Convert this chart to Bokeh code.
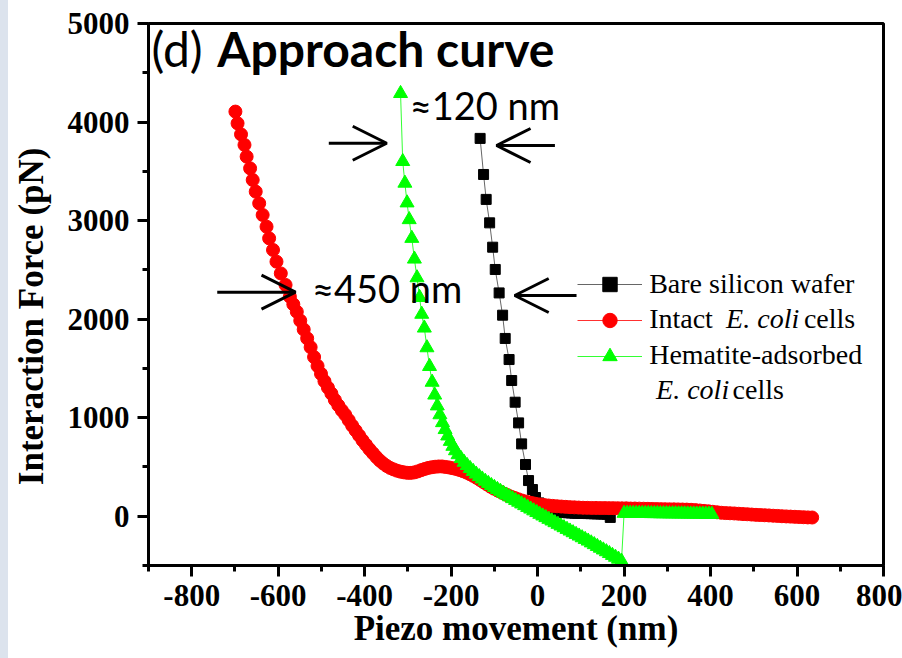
from bokeh.plotting import figure
from bokeh.layouts import row
from bokeh.models import (FixedTicker, Label, Arrow, OpenHead, Legend, LegendItem, Range1d, Div)
from bokeh.embed import file_html
from bokeh.resources import INLINE

# ---- axis ticks ----
x_ticks = [-800, -600, -400, -200, 0, 200, 400, 600, 800]
x_minor = [-900, -700, -500, -300, -100, 100, 300, 500, 700]
y_ticks = [0, 1000, 2000, 3000, 4000, 5000]
y_minor = [-500, 500, 1500, 2500, 3500, 4500]

# ---- Bare silicon wafer ----
bare_x = [-133, -125, -119, -111, -104, -98, -89, -81, -75, -66, -60, -52, -44, -37, -28, -21,
          -12, -5, 3, 10, 18, 26, 33, 41, 48, 56, 63, 71, 78, 86, 93, 101, 108, 116, 123, 131,
          138, 146, 153, 161, 168]
bare_y = [3834, 3468, 3215, 2977, 2730, 2504, 2266, 2040, 1804, 1590, 1377, 1157, 947, 734, 525, 362,
          271, 190, 135, 100, 78, 64, 55, 48, 43, 40, 37, 35, 33, 31, 30, 29, 28, 27, 26, 25,
          24, 23, 22, 20, -12]

# ---- Intact E. coli cells ----
intact_x = [-699, -694, -686, -678, -673, -665, -659, -652, -644, -636, -627, -621, -612, -604, -594,
            -583, -573, -565, -557, -549, -541, -533, -525, -517, -509, -501, -493, -485, -477, -469,
            -461, -453, -445, -437, -429, -421, -413, -405, -397, -389, -381, -373, -365, -357, -349,
            -341, -333, -325, -317, -309, -301, -293, -285, -277, -269, -261, -253, -245, -237, -229,
            -221, -213, -205, -197, -189, -181, -173, -165, -157, -149, -141, -133, -125, -117, -109,
            -101, -93, -85, -77, -69, -61, -53, -45, -37, -29, -21, -13, -5, 5, 15,
            25, 35, 45, 55, 65, 75, 85, 95, 105, 115, 125, 135, 145, 155, 165,
            175, 185, 195, 205, 215, 225, 235, 245, 255, 265, 275, 285, 295, 305, 315,
            325, 335, 345, 355, 365, 375, 385, 395, 405, 415, 425, 435, 445, 455, 465,
            475, 485, 495, 505, 515, 525, 535, 545, 555, 565, 575, 585, 595, 605, 615,
            625, 635]
intact_y = [4106, 3987, 3875, 3768, 3649, 3530, 3412, 3294, 3175, 3057, 2938, 2820, 2702, 2583, 2464,
            2347, 2228, 2150, 2075, 1985, 1895, 1805, 1715, 1615, 1525, 1445, 1370, 1305, 1245, 1180,
            1125, 1075, 1030, 975, 920, 870, 820, 770, 725, 680, 640, 600, 565, 535, 510,
            490, 475, 462, 452, 445, 440, 440, 445, 455, 468, 480, 490, 497, 502, 505,
            505, 500, 495, 488, 480, 470, 458, 444, 428, 410, 390, 368, 345, 322, 300,
            280, 262, 245, 228, 212, 198, 185, 172, 160, 150, 141, 133, 126, 120, 114,
            109, 105, 101, 98, 95, 92, 90, 88, 86, 85, 84, 84, 83, 83, 82,
            82, 81, 80, 80, 78, 78, 77, 76, 75, 74, 73, 72, 71, 70, 70,
            69, 68, 67, 65, 62, 58, 54, 50, 45, 40, 35, 32, 30, 28, 25,
            22, 20, 17, 14, 12, 10, 8, 5, 3, 0, -2, -4, -6, -8, -10,
            -12, -13]

# ---- Hematite-adsorbed E. coli cells ----
hem_x = [-317, -312, -307, -302, -297, -291, -285, -279, -273, -268, -262, -256, -250, -244,
         -238, -232, -226, -220, -214, -208, -202, -196, -190, -184, -177, -170, -163, -156, -149,
         -142, -135, -128, -121, -114, -107, -100, -93, -86, -79, -72, -65, -58, -51, -44,
         -37, -30, -23, -16, -9, -2, 5, 12, 19, 26, 33, 40, 47, 54, 61,
         68, 75, 82, 89, 96, 103, 110, 117, 124, 131, 138, 145, 152, 159, 166,
         173, 180, 187, 194,
         200, 207, 214, 221, 228, 235, 242, 249, 256, 263, 270, 277, 284, 291, 298,
         305, 312, 319, 326, 333, 340, 347, 354, 361, 368, 375, 382, 389, 396, 403]
hem_y = [4290, 3600, 3380, 3180, 3010, 2820, 2610, 2420, 2220, 2050, 1910, 1710, 1520, 1360,
         1230, 1120, 1030, 950, 880, 815, 760, 710, 665, 625, 585, 548, 515, 484, 455,
         428, 402, 378, 355, 333, 312, 292, 272, 253, 234, 215, 197, 179, 161, 143,
         125, 108, 90, 73, 55, 38, 20, 3, -14, -31, -48, -65, -82, -99, -116,
         -133, -150, -167, -184, -201, -218, -235, -252, -270, -288, -306, -324, -342, -360, -378,
         -397, -416, -435, -455,
         30, 30, 30, 29, 29, 29, 28, 28, 28, 27, 27, 27, 26, 26, 26,
         25, 25, 25, 24, 24, 24, 23, 23, 23, 22, 22, 22, 21, 21, 20]

# ---- annotation positions (data units) ----
arrow_x_start = [-483, 40, -741, 90]
arrow_x_end = [-349, -95, -560, -53]
arrow_y = [3785, 3762, 2274, 2240]

SERIF = "Liberation Serif"
SANS = "Lato"
STRIP = 8

p = figure(width=902 - STRIP, height=658, x_range=Range1d(-900, 800), y_range=Range1d(-500, 5000),
           output_backend="svg", toolbar_location=None,
           min_border_left=146 - STRIP, min_border_right=19, min_border_top=23, min_border_bottom=93)
p.grid.visible = False
p.outline_line_color = "black"
p.outline_line_width = 3
p.background_fill_color = "white"
p.border_fill_color = "white"

p.xaxis.ticker = FixedTicker(ticks=x_ticks, minor_ticks=x_minor)
p.yaxis.ticker = FixedTicker(ticks=y_ticks, minor_ticks=y_minor)
p.xaxis.major_label_overrides = {v: str(v) for v in x_ticks}
p.yaxis.major_label_overrides = {v: str(v) for v in y_ticks}
p.xaxis.axis_label = "Piezo movement (nm)"
p.yaxis.axis_label = "Interaction Force (pN)\u00a0\u00a0\u00a0\u00a0\u00a0"

for ax in (p.xaxis[0], p.yaxis[0]):
    ax.axis_line_width = 3
    ax.axis_line_color = "black"
    ax.major_tick_line_width = 3
    ax.minor_tick_line_width = 3
    ax.major_tick_out = 11
    ax.major_tick_in = 0
    ax.minor_tick_out = 6
    ax.minor_tick_in = 0
    ax.major_label_text_font = SERIF
    ax.major_label_text_font_style = "bold"
    ax.major_label_text_font_size = "31px"
    ax.major_label_text_color = "black"
    ax.major_label_standoff = 8
    ax.axis_label_text_font = SERIF
    ax.axis_label_text_font_style = "bold"
    ax.axis_label_text_font_size = "35px"
    ax.axis_label_text_color = "black"
p.yaxis[0].axis_label_standoff = 14
p.xaxis[0].axis_label_standoff = 0

# ---- series ----
bl = p.line(bare_x, bare_y, line_color="#666666", line_width=1)
bm = p.scatter(bare_x, bare_y, marker="square", size=10, fill_color="black", line_color="black")
rl = p.line(intact_x, intact_y, line_color="#ff3030", line_width=1)
rm = p.scatter(intact_x, intact_y, marker="circle", size=13, fill_color="red", line_color="red")
gl = p.line(hem_x, hem_y, line_color="#33ff33", line_width=1)
gm = p.scatter(hem_x, hem_y, marker="triangle", size=14, fill_color="#00ff00", line_color="#00ff00")

legend = Legend(items=[LegendItem(label=" ", renderers=[bl, bm]),
                       LegendItem(label=" ", renderers=[rl, rm]),
                       LegendItem(label=" ", renderers=[gl, gm])],
                location=(429, 191), glyph_width=65, glyph_height=36, label_height=36,
                label_width=0, label_standoff=0, spacing=0, padding=0, margin=0,
                border_line_alpha=0, background_fill_alpha=0, label_text_font_size="1px")
p.add_layout(legend)

def add_text(x, y, text, font, size, style="normal"):
    p.add_layout(Label(x=x, y=y, text=text, text_font=font, text_font_size=size,
                       text_font_style=style, text_color="black", text_baseline="alphabetic",
                       text_align="left"))

# legend texts
add_text(258, 2359, "Bare silicon wafer", SERIF, "28px")
add_text(258, 2007, "Intact ", SERIF, "28px")
add_text(436, 2007, "E. coli", SERIF, "28px", "italic")
add_text(616, 2007, "cells", SERIF, "28px")
add_text(258, 1641, "Hematite-adsorbed", SERIF, "28px")
add_text(274, 1286, "E. coli", SERIF, "28px", "italic")
add_text(451, 1286, "cells", SERIF, "28px")

# panel title and distance notes
add_text(-893, 4746, "(d)", SANS, "48px")
add_text(-741, 4746, "Approach curve", SANS, "48px", "bold")
add_text(-296, 4178, "\u2248120 nm", SANS, "38px")
add_text(-522, 2311, "\u2248450 nm", SANS, "38px")

for xs, xe, ya in zip(arrow_x_start, arrow_x_end, arrow_y):
    p.add_layout(Arrow(end=OpenHead(size=34, line_width=3, line_color="black"),
                       x_start=xs, y_start=ya, x_end=xe, y_end=ya,
                       line_width=3, line_color="black"))

# slide edge on the left of the chart
strip = Div(text="", width=STRIP, height=658, margin=0,
            styles={"background-color": "#dce3ed", "width": f"{STRIP}px", "height": "658px"})
layout = row(strip, p, spacing=0, margin=0)

open("out.html", "w").write(file_html(layout, INLINE))
